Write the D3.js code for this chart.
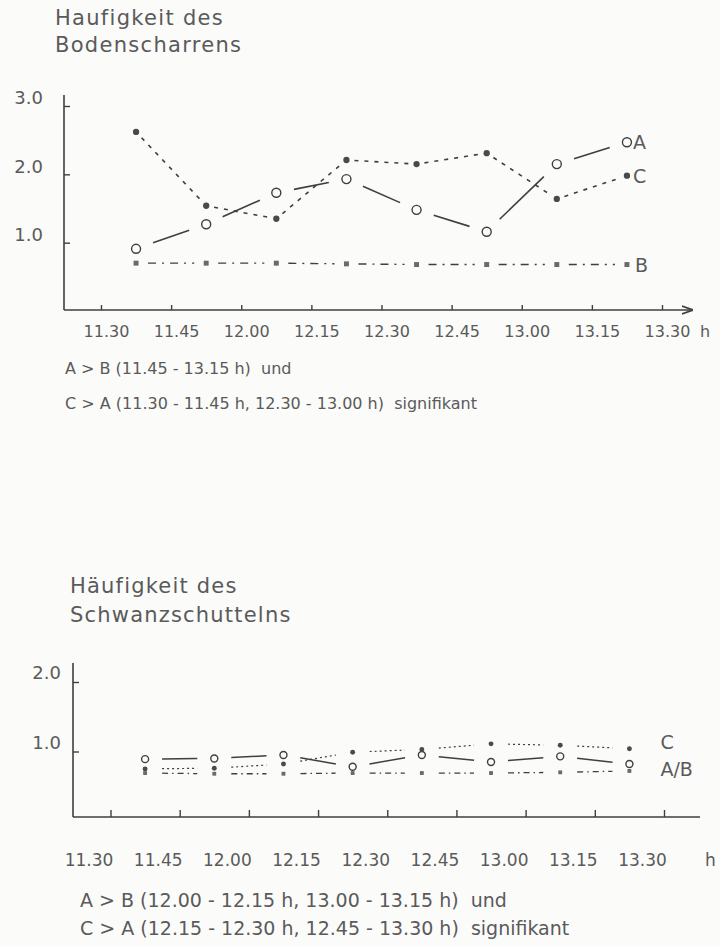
<!DOCTYPE html>
<html>
<head>
<meta charset="utf-8">
<script src="https://cdn.jsdelivr.net/npm/d3@7"></script>
<style>
  html, body { margin: 0; padding: 0; background: #fbfbfa; }
  svg { display: block; }
  text { font-family: "DejaVu Sans", sans-serif; fill: #5a5a5a; white-space: pre; }
</style>
</head>
<body>
<svg id="chart" width="720" height="947"></svg>
<script>
// Quarter-hour marks of the observation morning, in minutes after 11.30 h
const timeTicks = [0, 15, 30, 45, 60, 75, 90, 105, 120];
const timeLabels = ["11.30", "11.45", "12.00", "12.15", "12.30", "12.45", "13.00", "13.15", "13.30"];
// Each value belongs to the middle of a quarter-hour period
const periodMid = [7.5, 22.5, 37.5, 52.5, 67.5, 82.5, 97.5, 112.5];

// Häufigkeit des Bodenscharrens, groups A, B, C
const scharrenTicks = [1, 2, 3];
const scharrenA = [0.91, 1.27, 1.73, 1.93, 1.48, 1.16, 2.15, 2.47];
const scharrenB = [0.70, 0.70, 0.70, 0.69, 0.68, 0.68, 0.68, 0.68];
const scharrenC = [2.62, 1.54, 1.35, 2.21, 2.15, 2.31, 1.64, 1.98];

// Häufigkeit des Schwanzschüttelns, groups A, B, C
const schuettelnTicks = [1, 2];
const schuettelnA = [0.89, 0.90, 0.95, 0.78, 0.95, 0.85, 0.93, 0.82];
const schuettelnB = [0.69, 0.68, 0.68, 0.69, 0.69, 0.69, 0.70, 0.72];
const schuettelnC = [0.75, 0.76, 0.82, 0.99, 1.03, 1.11, 1.09, 1.04];

const INK = "#3f3f3f";
const svg = d3.select("#chart");
svg.append("rect").attr("width", 720).attr("height", 947).attr("fill", "#fbfbfa");

svg.append("defs").append("marker")
  .attr("id", "arrow").attr("viewBox", "0 0 10 10")
  .attr("refX", 9).attr("refY", 5)
  .attr("markerWidth", 7).attr("markerHeight", 7)
  .attr("orient", "auto")
  .append("path").attr("d", "M0,1.5 L10,5 L0,8.5").attr("fill", "none")
  .attr("stroke", INK).attr("stroke-width", 1.6);

// shorten a segment at both ends so the markers stand free
function trim(a, b, gap) {
  const dx = b[0] - a[0], dy = b[1] - a[1];
  const len = Math.hypot(dx, dy);
  const ux = dx / len, uy = dy / len;
  return [[a[0] + ux * gap, a[1] + uy * gap], [b[0] - ux * gap, b[1] - uy * gap]];
}

function drawMarker(g, kind, cx, cy, r) {
  if (kind === "circle") {
    g.append("circle").attr("cx", cx).attr("cy", cy).attr("r", r)
      .attr("fill", "#fbfbfa").attr("stroke", INK).attr("stroke-width", 1.4);
  } else if (kind === "dot") {
    g.append("circle").attr("cx", cx).attr("cy", cy).attr("r", r * 0.7)
      .attr("fill", "#4a4a4a");
  } else {
    const s = r * 1.1;
    g.append("rect").attr("x", cx - s / 2).attr("y", cy - s / 2)
      .attr("width", s).attr("height", s).attr("fill", "#6a6a6a");
  }
}

function drawPanel(p) {
  const g = svg.append("g");
  const x = d3.scaleLinear().domain([0, 120]).range([p.x0, p.x1]);
  const y = d3.scaleLinear().domain([0, p.yMax]).range([p.yBottom, p.yTop]);

  // heading
  p.title.forEach((t, i) => {
    g.append("text").attr("x", p.titleX).attr("y", p.titleY[i])
      .attr("font-size", p.titleSize).attr("letter-spacing", p.titleSpacing).text(t);
  });

  // vertical axis, ticks pointing into the plot
  const ya = g.append("g").attr("transform", `translate(${p.axisX},0)`)
    .call(d3.axisLeft(y).tickValues(p.yTicks).tickFormat(d3.format(".1f"))
      .tickSizeInner(-6).tickSizeOuter(0).tickPadding(p.yLabelPad));
  ya.select(".domain").remove();
  ya.selectAll(".tick line").attr("stroke", INK).attr("stroke-width", 1.4);
  ya.selectAll(".tick text").attr("font-size", p.yLabelSize).attr("y", p.yLabelDy);
  g.append("line").attr("x1", p.axisX).attr("x2", p.axisX)
    .attr("y1", p.axisTop).attr("y2", p.axisY)
    .attr("stroke", INK).attr("stroke-width", 1.6);

  // time axis, ticks pointing up
  const xa = g.append("g").attr("transform", `translate(0,${p.axisY})`)
    .call(d3.axisBottom(x).tickValues(timeTicks).tickFormat((d, i) => timeLabels[i])
      .tickSizeInner(-p.xTickLen).tickSizeOuter(0).tickPadding(p.xLabelPad));
  xa.select(".domain").remove();
  xa.selectAll(".tick line").attr("stroke", INK).attr("stroke-width", 1.4);
  xa.selectAll(".tick text").attr("font-size", p.labelSize).attr("dx", p.xLabelDx);
  const axisLine = g.append("line").attr("x1", p.axisX).attr("x2", p.axisEnd)
    .attr("y1", p.axisY).attr("y2", p.axisY)
    .attr("stroke", INK).attr("stroke-width", 1.6);
  if (p.arrow) axisLine.attr("marker-end", "url(#arrow)");
  g.append("text").attr("x", p.hX).attr("y", p.axisY + p.xLabelPad)
    .attr("dy", "0.71em").attr("font-size", p.labelSize).text("h");

  // group curves
  p.series.forEach(s => {
    const pts = s.values.map((v, i) => [x(periodMid[i]), y(v)]);
    const segs = d3.pairs(pts).map(([a, b]) => trim(a, b, s.gap));
    g.selectAll(null).data(segs).join("line")
      .attr("x1", d => d[0][0]).attr("y1", d => d[0][1])
      .attr("x2", d => d[1][0]).attr("y2", d => d[1][1])
      .attr("stroke", INK).attr("stroke-width", s.width)
      .attr("stroke-dasharray", s.dash).attr("stroke-linecap", "butt");
    pts.forEach(pt => drawMarker(g, s.marker, pt[0], pt[1], p.markerR));
    if (s.label) {
      const last = pts[pts.length - 1];
      g.append("text").attr("x", last[0] + s.labelDx).attr("y", last[1] + s.labelDy)
        .attr("dy", "0.36em").attr("font-size", p.endLabelSize).text(s.label);
    }
  });

  // significance notes
  p.notes.forEach((t, i) => {
    g.append("text").attr("x", p.notesX).attr("y", p.notesY[i])
      .attr("font-size", p.noteSize).text(t);
  });
}

drawPanel({
  title: ["Haufigkeit des", "Bodenscharrens"], titleX: 55, titleY: [25, 52],
  titleSize: 21, titleSpacing: 1.3,
  x0: 101, x1: 662, yMax: 3, yBottom: 311, yTop: 106, yTicks: scharrenTicks,
  axisX: 64, axisTop: 95, axisY: 310, axisEnd: 692, arrow: true,
  yLabelPad: 21, yLabelDy: -8, yLabelSize: 18, labelSize: 16,
  xTickLen: 5, xLabelPad: 16, xLabelDx: 5, hX: 700,
  markerR: 4.5, endLabelSize: 19,
  series: [
    { values: scharrenA, marker: "circle", dash: null, width: 1.6, gap: 18, label: "A", labelDx: 6, labelDy: 0 },
    { values: scharrenC, marker: "dot", dash: "4,6", width: 1.6, gap: 8, label: "C", labelDx: 6, labelDy: 0 },
    { values: scharrenB, marker: "square", dash: "8,6,2,6", width: 1.4, gap: 12, label: "B", labelDx: 8, labelDy: 1 }
  ],
  notes: ["A > B (11.45 - 13.15 h)  und", "C > A (11.30 - 11.45 h, 12.30 - 13.00 h)  signifikant"],
  notesX: 65, notesY: [374, 409], noteSize: 16
});

drawPanel({
  title: ["Häufigkeit des", "Schwanzschuttelns"], titleX: 70, titleY: [593, 622],
  titleSize: 21, titleSpacing: 1.2,
  x0: 110.5, x1: 664, yMax: 2, yBottom: 821, yTop: 682, yTicks: schuettelnTicks,
  axisX: 73, axisTop: 663, axisY: 817, axisEnd: 700, arrow: false,
  yLabelPad: 12, yLabelDy: -9, yLabelSize: 18, labelSize: 17,
  xTickLen: 7, xLabelPad: 37, xLabelDx: -22, hX: 705,
  markerR: 3.5, endLabelSize: 19,
  series: [
    { values: schuettelnA, marker: "circle", dash: null, width: 1.5, gap: 17, label: "A/B", labelDx: 31, labelDy: 5 },
    { values: schuettelnC, marker: "dot", dash: "2,3", width: 1.2, gap: 17, label: "C", labelDx: 31, labelDy: -7 },
    { values: schuettelnB, marker: "square", dash: "6,4,1.5,4", width: 1.3, gap: 17 }
  ],
  notes: ["A > B (12.00 - 12.15 h, 13.00 - 13.15 h)  und", "C > A (12.15 - 12.30 h, 12.45 - 13.30 h)  signifikant"],
  notesX: 80, notesY: [907, 935], noteSize: 19
});
</script>
</body>
</html>
